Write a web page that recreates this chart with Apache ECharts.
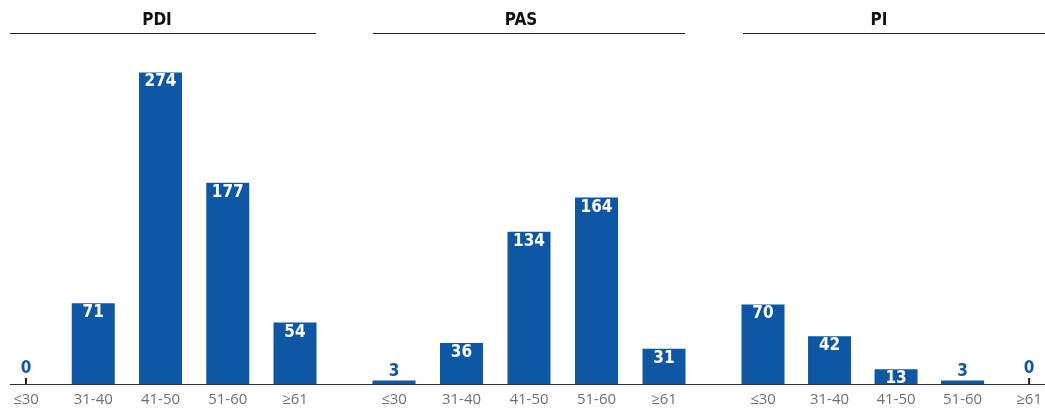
<!DOCTYPE html>
<html>
<head>
<meta charset="utf-8">
<script src="https://cdn.jsdelivr.net/npm/echarts@6/dist/echarts.min.js"></script>
<style>
  html, body { margin: 0; padding: 0; background: #fff; }
  #chart { width: 1045px; height: 408px; }
</style>
</head>
<body>
<div id="chart"></div>
<script>
// categories + values per panel
const categories = ["≤30", "31-40", "41-50", "51-60", "≥61"];
const panelTitles = ["PDI", "PAS", "PI"];
const pdiValues = [0, 71, 274, 177, 54];
const pasValues = [3, 36, 134, 164, 31];
const piValues = [70, 42, 13, 3, 0];
const panelValues = [pdiValues, pasValues, piValues];

const blue = "#0d57a4";
const numFont = "'DejaVu Sans Condensed', 'DejaVu Sans', sans-serif";

// panel layout: first/last category centres, title centre, underline span
const grids = [
  { left: 26, right: 750 },
  { left: 394, right: 381 },
  { left: 763, right: 12 },
];
const titleCenters = [152, 516, 874];
const underlines = [[10, 316], [373, 685], [743, 1045]];

var myChart = echarts.init(document.getElementById("chart"));

function barData(values) {
  return values.map(function (v) {
    if (v === 0) return { value: v, label: { show: false } };
    if (v < 10) return { value: v, label: { position: "top", color: blue, distance: 1 } };
    return { value: v };
  });
}

var options = {
  animation: false,
  title: panelTitles.map(function (t, i) {
    return {
      text: t,
      left: titleCenters[i],
      top: 7,
      textAlign: "center",
      textStyle: { fontFamily: numFont, fontSize: 17, fontWeight: "bold", color: "#111" },
    };
  }),
  grid: grids.map(function (g) {
    return { left: g.left, right: g.right, top: 43, bottom: 24 };
  }),
  xAxis: grids.map(function (g, i) {
    return {
      type: "category",
      gridIndex: i,
      data: categories,
      boundaryGap: false,
      axisLine: { show: false },
      axisTick: { show: false },
      axisLabel: {
        margin: 8,
        color: "#707070",
        fontSize: 15,
        fontFamily: "'Open Sans', sans-serif",
      },
    };
  }),
  yAxis: grids.map(function (g, i) {
    return { type: "value", gridIndex: i, min: 0, max: 300, show: false, splitLine: { show: false } };
  }),
  series: [],
  graphic: [],
};

panelValues.forEach(function (values, i) {
  options.series.push({
    type: "bar",
    xAxisIndex: i,
    yAxisIndex: i,
    barWidth: 43,
    clip: false,
    itemStyle: { color: blue },
    label: {
      show: true,
      position: "insideTop",
      distance: 1,
      color: "#fff",
      fontFamily: numFont,
      fontWeight: "bold",
      fontSize: 17,
    },
    data: barData(values),
  });
  // small tick marks for zero values
  options.series.push({
    type: "scatter",
    xAxisIndex: i,
    yAxisIndex: i,
    symbol: "rect",
    symbolSize: [2, 6],
    symbolOffset: [0, -3],
    clip: false,
    itemStyle: { color: "#222", opacity: 1 },
    label: {
      show: true,
      position: "top",
      distance: 1,
      formatter: "{c}",
      color: blue,
      fontFamily: numFont,
      fontWeight: "bold",
      fontSize: 17,
    },
    data: values.map(function (v) { return v === 0 ? 0 : "-"; }),
  });
});

// baseline + title underlines
options.graphic.push({
  type: "line",
  shape: { x1: 10, y1: 384.5, x2: 1045, y2: 384.5 },
  style: { stroke: "#333", lineWidth: 1.2 },
  z: 10,
});
underlines.forEach(function (u) {
  options.graphic.push({
    type: "line",
    shape: { x1: u[0], y1: 33.5, x2: u[1], y2: 33.5 },
    style: { stroke: "#222", lineWidth: 1.2 },
  });
});

myChart.setOption(options);
</script>
</body>
</html>
